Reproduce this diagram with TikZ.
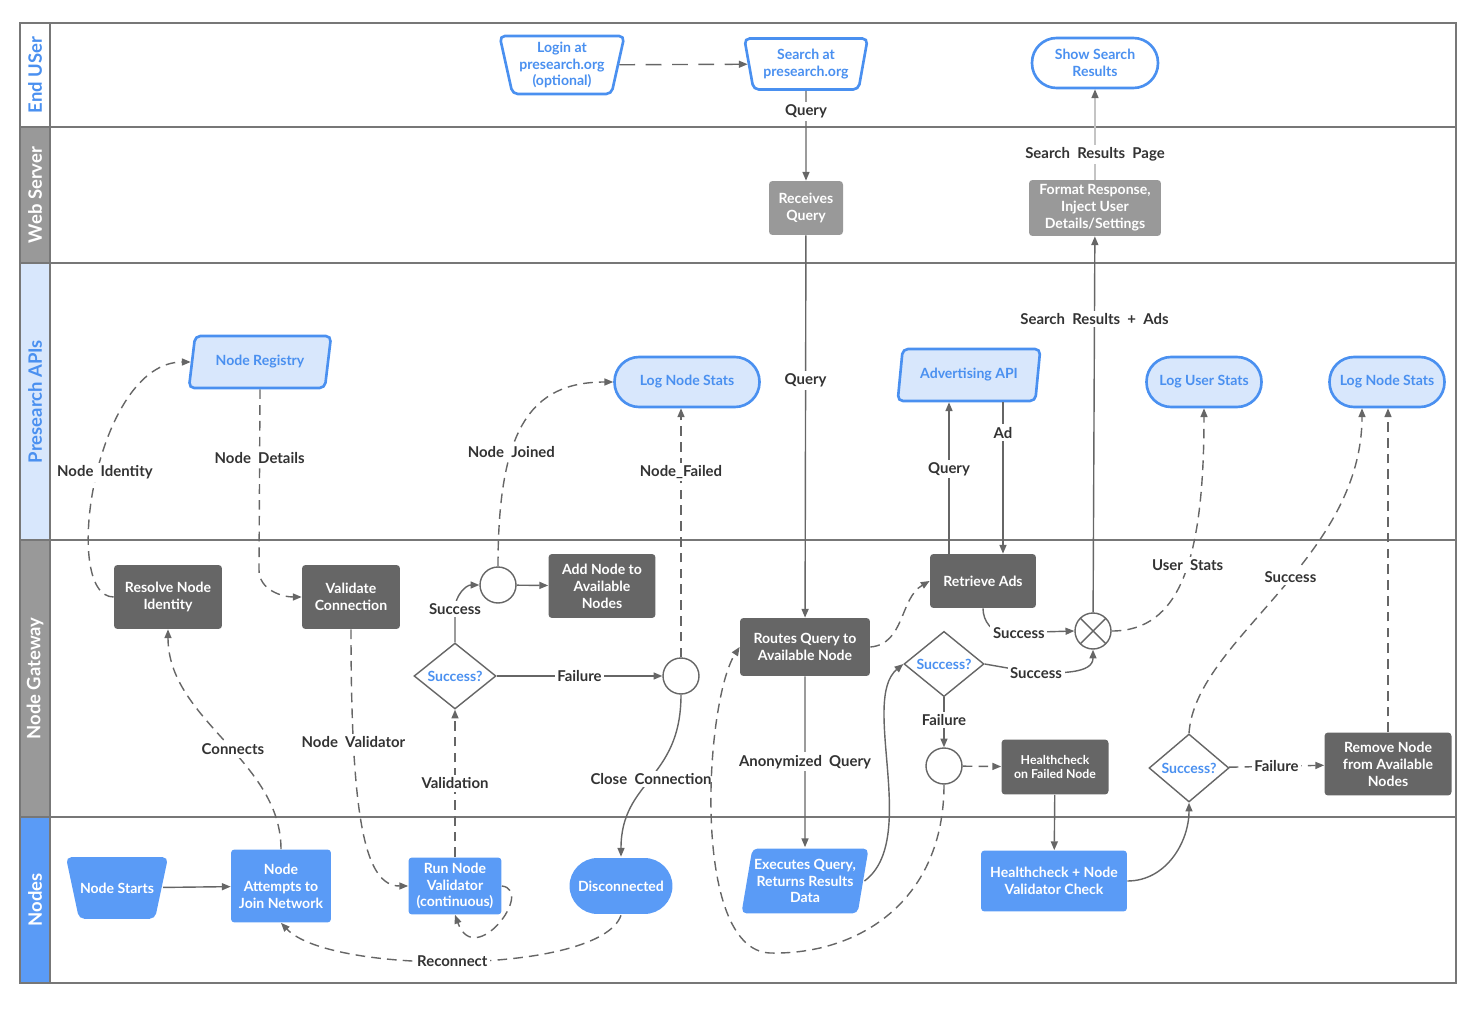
\documentclass[tikz,border=0pt]{standalone}
\usepackage{fontspec}
\setmainfont{Lato}
\usepackage{tikz}
\usetikzlibrary{arrows.meta,shapes.geometric}

\definecolor{lanegrey}{HTML}{777777}
\definecolor{headgrey}{HTML}{999999}
\definecolor{paleblue}{HTML}{D8E7FC}
\definecolor{nodeblue}{HTML}{5A9BF6}
\definecolor{textblue}{HTML}{4A90F0}
\definecolor{boxdark}{HTML}{666666}
\definecolor{boxgrey}{HTML}{999999}
\definecolor{wire}{HTML}{666666}
\definecolor{lbltext}{HTML}{333333}
\definecolor{faint}{HTML}{C4C4C4}

\newcommand{\boxfont}{\fontsize{8}{9.6}\selectfont\bfseries}
\newcommand{\smallboxfont}{\fontsize{7}{8.4}\selectfont\bfseries}
\newcommand{\lblfont}{\fontsize{8.5}{10}\selectfont\bfseries}
\newcommand{\headfont}{\fontsize{10.5}{12}\selectfont\bfseries}

\tikzset{
    lanerule/.style={draw=lanegrey, line width=0.8pt},
    lanelabel/.style={rotate=90, font=\headfont, inner sep=0pt},
    darkbox/.style={rectangle, rounded corners=2pt, fill=boxdark, text=white, align=center, font=\boxfont, inner sep=1pt},
    greybox/.style={darkbox, fill=boxgrey},
    bluebox/.style={darkbox, fill=nodeblue},
    stadium/.style={rectangle, rounded corners=14pt, draw=textblue, line width=1.5pt, fill=paleblue, text=textblue, align=center, font=\boxfont, inner sep=1pt},
    usertrap/.style={trapezium, shape border rotate=180, trapezium left angle=77, trapezium right angle=77, trapezium stretches=true, rounded corners=3pt, draw=textblue, line width=1.5pt, fill=white, text=textblue, align=center, font=\boxfont, inner sep=1pt},
    nodetrap/.style={usertrap, draw=none, fill=nodeblue, text=white},
    apipara/.style={trapezium, trapezium left angle=75, trapezium right angle=105, trapezium stretches=true, rounded corners=3pt, draw=textblue, line width=1.5pt, fill=paleblue, text=textblue, align=center, font=\boxfont, inner sep=1pt},
    decision/.style={diamond, draw=wire, line width=0.8pt, fill=white, text=textblue, font=\boxfont, inner sep=0pt},
    junction/.style={circle, draw=wire, line width=0.8pt, fill=white, minimum size=0.72cm, inner sep=0pt},
    crossjoin/.style={junction, path picture={
        \draw[draw=wire, line width=0.8pt] (path picture bounding box.north west) -- (path picture bounding box.south east)
                                           (path picture bounding box.north east) -- (path picture bounding box.south west);}},
    flow/.style={draw=wire, line width=0.8pt, -{Triangle[length=5pt,width=4pt]}},
    dflow/.style={flow, dash pattern=on 5.5pt off 3.5pt},
    longdash/.style={dash pattern=on 9pt off 6pt},
    faintflow/.style={draw=faint, line width=0.8pt, -{Triangle[length=5pt,width=4pt,color=wire]}},
    lbl/.style={fill=white, text=lbltext, font=\lblfont, inner sep=1.5pt}
}

\begin{document}
\begin{tikzpicture}[x=0.02cm, y=-0.02cm]
        \useasboundingbox (0,0) rectangle (1478,1010);

        % swim lanes
        \foreach \ytop/\ybot/\fillcol/\txtcol/\lname in {23/127/white/textblue/End USer,
                127/263/headgrey/white/Web Server, 263/540/paleblue/textblue/Presearch APIs,
                540/817/headgrey/white/Node Gateway, 817/983/nodeblue/white/Nodes}{
            \draw[lanerule, fill=\fillcol] (20,\ytop) rectangle (50,\ybot);
            \draw[lanerule] (50,\ybot) -- (1456,\ybot);
            \node[lanelabel, text=\txtcol] (lane\ytop) at (35,{(\ytop+\ybot)/2}) {\lname};
        }
        \draw[lanerule] (20,23) rectangle (1456,983);

        % End USer
        \node[usertrap, minimum width=2.5cm, minimum height=1.16cm] (login) at (562,65) {Login at\\presearch.org\\(optional)};
        \node[usertrap, minimum width=2.48cm, minimum height=1.02cm] (search) at (806,64) {Search at\\presearch.org};
        \node[stadium, fill=white, minimum width=2.52cm, minimum height=1cm] (showres) at (1095,63) {Show Search\\Results};

        % Web Server
        \node[greybox, minimum width=1.48cm, minimum height=1.08cm] (receive) at (806,208) {Receives\\Query};
        \node[greybox, minimum width=2.64cm, minimum height=1.12cm] (format) at (1095,208) {Format Response,\\Inject User\\Details/Settings};

        % Presearch APIs
        \node[apipara, minimum width=2.86cm, minimum height=1.04cm] (registry) at (260,362) {Node Registry};
        \node[stadium, minimum width=2.9cm, minimum height=1cm] (lognodea) at (687,382) {Log Node Stats};
        \node[apipara, trapezium left angle=77, trapezium right angle=103, minimum width=2.86cm, minimum height=1.04cm] (adapi) at (969,375) {Advertising API};
        \node[stadium, minimum width=2.3cm, minimum height=1cm] (loguser) at (1204,382) {Log User Stats};
        \node[stadium, minimum width=2.3cm, minimum height=1cm] (lognodeb) at (1387,382) {Log Node Stats};

        % Node Gateway
        \node[darkbox, minimum width=2.16cm, minimum height=1.28cm] (resolve) at (168,597) {Resolve Node\\Identity};
        \node[darkbox, minimum width=1.96cm, minimum height=1.28cm] (validate) at (351,597) {Validate\\Connection};
        \node[junction] (joina) at (498,585) {};
        \node[darkbox, minimum width=2.14cm, minimum height=1.28cm] (addnode) at (602,586) {Add Node to\\Available\\Nodes};
        \node[decision, minimum width=1.64cm, minimum height=1.32cm] (checka) at (455,676) {Success?};
        \node[junction] (joinb) at (681,676) {};
        \node[darkbox, minimum width=2.6cm, minimum height=1.16cm] (routes) at (805,647) {Routes Query to\\Available Node};
        \node[darkbox, minimum width=2.12cm, minimum height=1.08cm] (retrieve) at (983,581) {Retrieve Ads};
        \node[decision, minimum width=1.6cm, minimum height=1.16cm] (checkb) at (944,664) {Success?};
        \node[crossjoin] (combine) at (1093,631) {};
        \node[junction] (joinc) at (944,766) {};
        \node[darkbox, font=\smallboxfont, minimum width=2.14cm, minimum height=1.1cm] (hcfail) at (1055,767) {Healthcheck\\on Failed Node};
        \node[decision, minimum width=1.6cm, minimum height=1.36cm] (checkc) at (1189,768) {Success?};
        \node[darkbox, minimum width=2.54cm, minimum height=1.26cm] (remove) at (1388,764) {Remove Node\\from Available\\Nodes};

        % Nodes
        \node[nodetrap, trapezium left angle=78, trapezium right angle=78, inner xsep=0.02cm, inner ysep=0.51cm] (start) at (117,888) {Node Starts};
        \node[bluebox, minimum width=2cm, minimum height=1.46cm] (attempt) at (281,886) {Node\\Attempts to\\Join Network};
        \node[bluebox, minimum width=1.86cm, minimum height=1.14cm] (runval) at (455,886) {Run Node\\Validator\\(continuous)};
        \node[stadium, draw=none, fill=nodeblue, text=white, rounded corners=16pt, minimum width=2.06cm, minimum height=1.12cm] (disconn) at (621,886) {Disconnected};
        \node[apipara, draw=none, fill=nodeblue, text=white, trapezium left angle=77, trapezium right angle=103, minimum height=1.3cm] (execute) at (805,881) {Executes Query,\\Returns Results\\Data};
        \node[bluebox, minimum width=2.92cm, minimum height=1.22cm] (hcnode) at (1054,881) {Healthcheck + Node\\Validator Check};

        \coordinate (adq) at ([xshift=-0.68cm]retrieve.north);
        \coordinate (ada) at ([xshift=0.4cm]retrieve.north);

        % straight connectors
        \path
            (login)    edge [flow, longdash] (search)
            (search)   edge [flow] node[lbl, pos=0.23] {Query} (receive)
            (receive)  edge [flow] node[lbl, pos=0.38] {Query} (routes)
            (routes)   edge [flow] node[lbl, pos=0.5] {Anonymized\ \ Query} (execute)
            (combine)  edge [flow] node[lbl, pos=0.78] {Search\ \ Results\ \ +\ \ Ads} (format)
            (format)   edge [faintflow] node[lbl, pos=0.28] {Search\ \ Results\ \ Page} (showres)
            (adq)      edge [flow] node[lbl, pos=0.56] {Query} (adq |- adapi.south)
            (ada |- adapi.south) edge [flow] node[lbl, pos=0.2] {Ad} (ada)
            (checkb)   edge [flow] node[lbl, pos=0.45] {Failure} (joinc)
            (joinc)    edge [dflow] (hcfail)
            (hcfail)   edge [flow] (hcnode)
            (checkc)   edge [dflow] node[lbl] {Failure} (remove)
            (remove)   edge [dflow] (remove |- lognodeb.south)
            (runval)   edge [dflow] node[lbl] {Validation} (checka)
            (checka)   edge [flow] node[lbl] {Failure} (joinb)
            (joinb)    edge [dflow] node[lbl, pos=0.745] {Node\_Failed} (joinb |- lognodea.south)
            (joina)    edge [flow] (addnode)
            (start)    edge [flow] (attempt)
            ;

        % curved connectors
        \draw[dflow] (resolve.west) .. controls (60,597) and (95,362) .. node[lbl, pos=0.52, xshift=0.14cm] {Node\ \ Identity} (registry.west);
        \draw[dflow] (registry.south) -- node[lbl, pos=0.38] {Node\ \ Details} (259,570) to[out=-90, in=180] (validate.west);
        \draw[dflow] (validate.south) .. controls (351,820) and (365,886) .. node[lbl, pos=0.23] {Node\ \ Validator} (runval.west);
        \draw[dflow] (attempt.north) .. controls (281,760) and (168,720) .. node[lbl, pos=0.45] {Connects} (resolve.south);
        \draw[dflow] (runval.east) .. controls (535,890) and (475,970) .. (runval.south);
        \draw[flow] (checka.north) -- (455,609) node[lbl] {Success} to[out=90, in=180] (joina.west);
        \draw[dflow] (joina.north) .. controls (498,430) and (530,382) .. node[lbl, pos=0.36] {Node\ \ Joined} (lognodea.west);
        \draw[flow] (joinb.south) .. controls (681,780) and (621,780) .. node[lbl] {Close\ \ Connection} (disconn.north);
        \draw[dflow] (disconn.south) .. controls (600,975) and (330,975) .. node[lbl, pos=0.52] {Reconnect} (attempt.south);
        \draw[flow] (execute.east) .. controls (920,840) and (860,700) .. (checkb.west);
        \draw[dflow] (routes.east) to[out=5, in=210] (retrieve.west);
        \draw[flow] (retrieve.south) to[out=-90, in=180] (1005,633) -- node[lbl, pos=0.2] {Success} (combine.west);
        \draw[flow] (checkb.east) -- (1036,673) node[lbl] {Success} to[out=0, in=-90] (combine.south);
        \draw[dflow] (combine.east) .. controls (1180,631) and (1204,560) .. node[lbl, pos=0.55] {User\ \ Stats} (loguser.south);
        \draw[flow] (hcnode.east) to[out=0, in=-90] (checkc.south);
        \draw[dflow] (checkc.north) .. controls (1195,640) and (1362,560) .. node[lbl, pos=0.55] {Success} ([xshift=-0.5cm]lognodeb.south);
        \draw[dflow] (joinc.south) .. controls (944,900) and (860,955) .. (770,953) .. controls (690,950) and (705,700) .. (routes.west);
\end{tikzpicture}
\end{document}
